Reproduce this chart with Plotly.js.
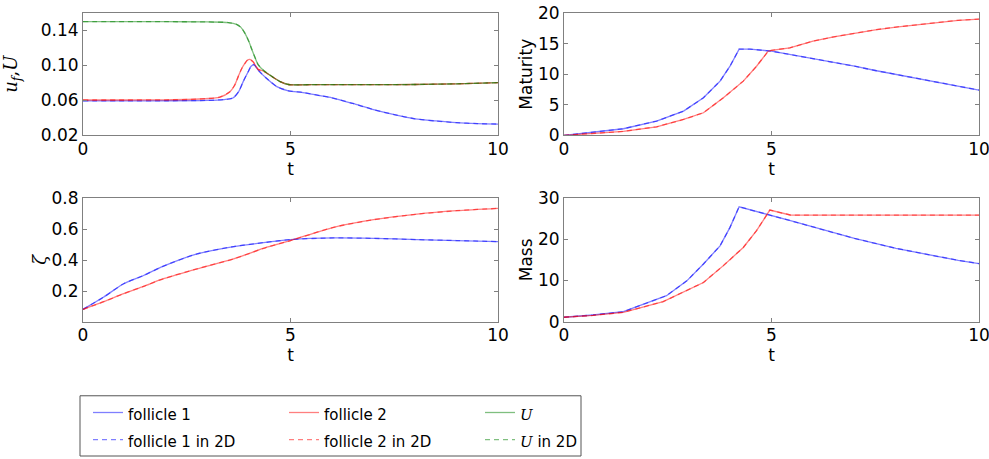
<!DOCTYPE html>
<html><head><meta charset="utf-8">
<script src="https://cdn.plot.ly/plotly-3.0.1.min.js"></script>
<style>html,body{margin:0;padding:0;background:#fff}#chart{width:989px;height:459px}</style>
</head><body><div id="chart"></div>
<script>
// ---- Data ----
// Panel 1: u_f and U vs t
const t_uf1 = [0, 1, 2, 3, 3.4, 3.61, 3.75, 3.86, 3.98, 4.05, 4.12, 4.22, 4.42, 4.67, 4.95, 5.3, 5.71, 6, 6.5, 7, 7.5, 8, 8.5, 9, 9.5, 10];
const uf1 = [0.0595, 0.0595, 0.0596, 0.0600, 0.0610, 0.0627, 0.070, 0.0815, 0.0928, 0.099, 0.101, 0.0947, 0.0853, 0.0758, 0.0710, 0.0690, 0.0655, 0.063, 0.0565, 0.0495, 0.0438, 0.039, 0.0365, 0.0345, 0.0335, 0.033];
const t_uf2 = [0, 1, 2, 2.8, 3.3, 3.54, 3.65, 3.74, 3.82, 3.9, 3.96, 4.02, 4.1, 4.22, 4.34, 4.5, 4.75, 4.95, 5.5, 6, 7, 8, 9, 10];
const uf2 = [0.0605, 0.0605, 0.0607, 0.0616, 0.0638, 0.070, 0.077, 0.0872, 0.096, 0.1023, 0.106, 0.107, 0.104, 0.0955, 0.0936, 0.089, 0.0815, 0.0782, 0.078, 0.078, 0.078, 0.0782, 0.079, 0.0803];
const t_U = [0, 1, 2, 3, 3.5, 3.7, 3.8, 3.9, 4.0, 4.06, 4.12, 4.17, 4.22, 4.34, 4.5, 4.75, 4.95, 5.5, 6, 7, 8, 9, 10];
const U = [0.150, 0.150, 0.150, 0.1497, 0.149, 0.147, 0.1438, 0.137, 0.127, 0.1193, 0.112, 0.106, 0.101, 0.0947, 0.089, 0.0815, 0.0782, 0.078, 0.078, 0.078, 0.0782, 0.079, 0.0803];
// Panel 2: Maturity
const t_mat1 = [0, 0.63, 1.43, 2.23, 2.88, 3.36, 3.76, 4.0, 4.22, 4.48, 5, 5.5, 6, 6.5, 7, 7.5, 8, 8.5, 9, 9.5, 10];
const mat1 = [0, 0.43, 1.09, 2.34, 3.97, 6.14, 8.86, 11.3, 14.1, 14.1, 13.75, 13.15, 12.55, 11.95, 11.3, 10.6, 9.95, 9.25, 8.6, 8.0, 7.4];
const t_mat2 = [0, 0.7, 1.43, 2.23, 2.88, 3.36, 3.84, 4.32, 4.64, 4.92, 5.0, 5.44, 6, 6.5, 7, 7.5, 8, 8.5, 9, 9.5, 10];
const mat2 = [0, 0.3, 0.65, 1.41, 2.6, 3.7, 6.14, 8.86, 11.3, 13.75, 13.9, 14.3, 15.4, 16.1, 16.7, 17.25, 17.7, 18.1, 18.5, 18.8, 19.0];
// Panel 3: zeta
const t_zeta = [0, 0.5, 0.98, 1.46, 1.94, 2.75, 3.63, 4.43, 5, 6.04, 7, 8.05, 9, 10];
const zeta1 = [0.084, 0.163, 0.249, 0.302, 0.362, 0.441, 0.488, 0.516, 0.533, 0.544, 0.541, 0.533, 0.527, 0.52];
const zeta2 = [0.084, 0.133, 0.185, 0.232, 0.281, 0.345, 0.409, 0.484, 0.527, 0.612, 0.661, 0.697, 0.719, 0.734];
// Panel 4: Mass
const t_mass1 = [0, 0.7, 1.43, 2.07, 2.47, 2.96, 3.36, 3.76, 4.0, 4.22, 4.6, 5, 5.5, 6, 6.5, 7, 7.5, 8, 8.5, 9, 9.5, 10];
const mass1 = [1.05, 1.6, 2.4, 4.7, 6.3, 9.9, 14.0, 18.4, 22.9, 27.9, 26.9, 25.9, 24.4, 23.0, 21.6, 20.2, 19.0, 17.8, 16.8, 15.8, 14.9, 14.1];
const t_mass2 = [0, 0.7, 1.43, 2.39, 3.36, 3.84, 4.32, 4.64, 4.96, 5.2, 5.45, 6, 7, 8, 9, 10];
const mass2 = [1.05, 1.5, 2.26, 4.85, 9.5, 13.6, 18.0, 22.1, 27.1, 26.6, 25.9, 25.85, 25.85, 25.85, 25.85, 25.85];
// The "in 2D" runs coincide with the 1D runs in the picture
const uf1_2D = uf1, uf2_2D = uf2, U_2D = U;
const mat1_2D = mat1, mat2_2D = mat2;
const zeta1_2D = zeta1, zeta2_2D = zeta2;
const mass1_2D = mass1, mass2_2D = mass2;

const xTicks = [0, 5, 10];
const legendNames = ['follicle 1', 'follicle 1 in 2D', 'follicle 2', 'follicle 2 in 2D', 'U', 'U in 2D'];

// ---- styling ----
const BLUE = 'rgba(0,0,255,0.5)', RED = 'rgba(255,0,0,0.5)', GREEN = 'rgba(0,128,0,0.5)';
const DASH = '5px,4px';
const LW = 1.3;
const sm = s => '<span style="font-size:15px">' + s + '</span>';
const uItal = '<span style="font-family:\'DejaVu Serif\';font-style:italic">U</span>';
const legendHTML = [sm(legendNames[0]), sm(legendNames[1]), sm(legendNames[2]), sm(legendNames[3]),
  sm(uItal), sm(uItal + legendNames[5].slice(1))];

function tr(x, y, color, dash, idx, group, ax, show, shape) {
  return {x: x, y: y, type: 'scatter', mode: 'lines', xaxis: 'x' + ax, yaxis: 'y' + ax,
    line: {color: color, width: LW, dash: dash, shape: shape || 'linear', smoothing: 0.7},
    name: legendHTML[idx], legendgroup: group, showlegend: show, hoverinfo: 'skip'};
}

const data = [
  tr(t_uf1, uf1, BLUE, 'solid', 0, 'g1', '', true, 'spline'),
  tr(t_uf1, uf1_2D, BLUE, DASH, 1, 'g1', '', true, 'spline'),
  tr(t_uf2, uf2, RED, 'solid', 2, 'g2', '', true, 'spline'),
  tr(t_uf2, uf2_2D, RED, DASH, 3, 'g2', '', true, 'spline'),
  tr(t_U, U, GREEN, 'solid', 4, 'g3', '', true, 'spline'),
  tr(t_U, U_2D, GREEN, DASH, 5, 'g3', '', true, 'spline'),

  tr(t_mat1, mat1, BLUE, 'solid', 0, 'g1', '2', false),
  tr(t_mat1, mat1_2D, BLUE, DASH, 1, 'g1', '2', false),
  tr(t_mat2, mat2, RED, 'solid', 2, 'g2', '2', false),
  tr(t_mat2, mat2_2D, RED, DASH, 3, 'g2', '2', false),

  tr(t_zeta, zeta1, BLUE, 'solid', 0, 'g1', '3', false, 'spline'),
  tr(t_zeta, zeta1_2D, BLUE, DASH, 1, 'g1', '3', false, 'spline'),
  tr(t_zeta, zeta2, RED, 'solid', 2, 'g2', '3', false, 'spline'),
  tr(t_zeta, zeta2_2D, RED, DASH, 3, 'g2', '3', false, 'spline'),

  tr(t_mass1, mass1, BLUE, 'solid', 0, 'g1', '4', false),
  tr(t_mass1, mass1_2D, BLUE, DASH, 1, 'g1', '4', false),
  tr(t_mass2, mass2, RED, 'solid', 2, 'g2', '4', false),
  tr(t_mass2, mass2_2D, RED, DASH, 3, 'g2', '4', false)
];

const W = 989, H = 459;
const FONT = 'DejaVu Sans';
const frame = '#808080';
function xax(domain, anchor) {
  return {domain: domain, anchor: anchor, range: [0, 10], tickvals: xTicks, ticks: 'inside', ticklen: 4,
    tickcolor: frame, showline: true, linecolor: frame, linewidth: 1, mirror: 'ticks', showgrid: false,
    zeroline: false, tickfont: {family: FONT, size: 17, color: '#000'}, automargin: false,
    ticklabeloverflow: 'allow', ticklabelstandoff: -2,
    title: {text: 't', font: {family: FONT, size: 17, color: '#000'}, standoff: 2}};
}
function yax(domain, anchor, range, tickvals, fmt, title, standoff, tfont) {
  return {domain: domain, anchor: anchor, range: range, tickvals: tickvals, tickformat: fmt,
    ticks: 'inside', ticklen: 4, tickcolor: frame, showline: true, linecolor: frame, linewidth: 1,
    mirror: 'ticks', showgrid: false, zeroline: false, automargin: false, ticklabeloverflow: 'allow',
    tickfont: {family: FONT, size: 17, color: '#000'},
    title: {text: title, font: tfont || {family: FONT, size: 17, color: '#000'}, standoff: standoff}};
}
const xL = [83 / W, 498 / W], xR = [564 / W, 979 / W];
const yT = [1 - 136 / H, 1 - 13 / H], yB = [1 - 323 / H, 1 - 199 / H];
const serif = {family: 'DejaVu Serif', size: 18, color: '#000'};

const layout = {
  width: W, height: H, margin: {l: 0, r: 0, t: 0, b: 0},
  paper_bgcolor: '#fff', plot_bgcolor: '#fff',
  xaxis: xax(xL, 'y'),
  yaxis: yax(yT, 'x', [0.02, 0.16], [0.02, 0.06, 0.10, 0.14], '.2f', '<i>u</i><sub><i>f</i></sub>,<i>U</i>', 18, serif),
  xaxis2: xax(xR, 'y2'),
  yaxis2: yax(yT, 'x2', [0, 20], [0, 5, 10, 15, 20], 'd', 'Maturity', 1),
  xaxis3: xax(xL, 'y3'),
  yaxis3: yax(yB, 'x3', [0.005, 0.8], [0.2, 0.4, 0.6, 0.8], '.1f', '<i>ζ</i>', 0, serif),
  xaxis4: xax(xR, 'y4'),
  yaxis4: yax(yB, 'x4', [0, 30], [0, 10, 20, 30], 'd', 'Mass', 1),
  showlegend: true,
  legend: {orientation: 'h', traceorder: 'grouped', entrywidth: 151, x: 88 / W, xanchor: 'left',
    y: 1 - 395.7 / H, yanchor: 'top', bgcolor: 'rgba(0,0,0,0)', borderwidth: 0,
    font: {family: FONT, size: 18.5, color: '#000'}},
  shapes: [{type: 'rect', xref: 'paper', yref: 'paper', x0: 80 / W, x1: 581 / W, y0: 1 - 458 / H, y1: 1 - 397.5 / H,
    line: {color: '#555', width: 1}, fillcolor: 'rgba(0,0,0,0)'}]
};

Plotly.newPlot('chart', data, layout, {staticPlot: true, displayModeBar: false});
</script></body></html>
